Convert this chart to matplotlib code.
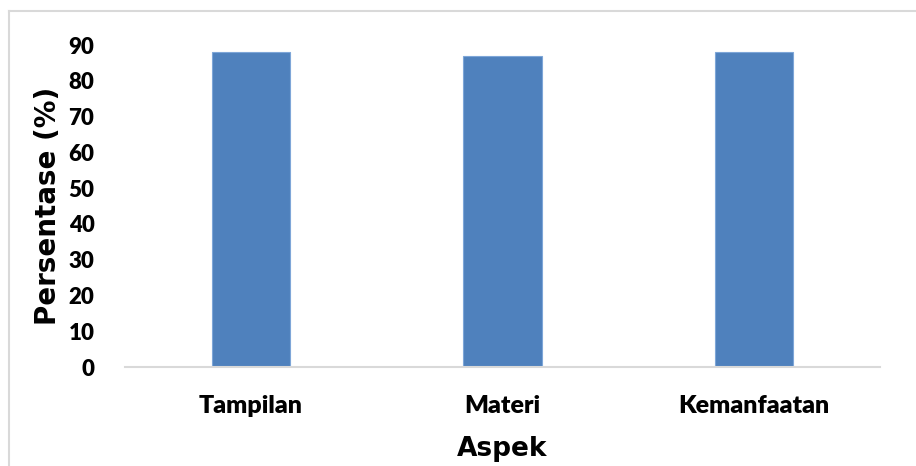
import matplotlib
matplotlib.use("Agg")
import matplotlib.pyplot as plt
from matplotlib.lines import Line2D

aspek = ["Tampilan", "Materi", "Kemanfaatan"]
persen = [88, 87, 88]
yticks = [0, 10, 20, 30, 40, 50, 60, 70, 80, 90]

W, H = 916, 466
fig = plt.figure(figsize=(W / 100, H / 100), dpi=100)
ax = fig.add_axes([125 / W, 1 - 367 / H, (880 - 125) / W, (367 - 45) / H])

x = range(len(aspek))
ax.bar(x, persen, width=0.31, color="#4f81bd", edgecolor="#7ea6d8", linewidth=0.8)

ax.set_xlim(-0.5, len(aspek) - 0.5)
ax.set_ylim(0, 90)
ax.set_yticks(yticks)
ax.set_xticks(list(x))
ax.set_xticklabels(aspek)

for s in ["top", "right", "left"]:
    ax.spines[s].set_visible(False)
ax.spines["bottom"].set_color("#d9d9d9")
ax.spines["bottom"].set_linewidth(1.5)
ax.tick_params(axis="y", length=0, labelsize=16, pad=22)
ax.tick_params(axis="x", length=0, labelsize=18, pad=20)
for lab in ax.get_xticklabels() + ax.get_yticklabels():
    lab.set_fontfamily("Lato")
    lab.set_fontweight("heavy")

ax.set_xlabel("Aspek", fontsize=19, fontweight="heavy", family="DejaVu Sans", labelpad=14)
ax.set_ylabel("Persentase (%)", fontsize=20, fontweight="heavy", family="DejaVu Sans", labelpad=5)

# chart border
fig.add_artist(Line2D([9 / W, 9 / W], [0, 1 - 11 / H], color="#d9d9d9", lw=1.5))
fig.add_artist(Line2D([9 / W, 1], [1 - 11 / H, 1 - 11 / H], color="#d9d9d9", lw=1.5))

fig.savefig("out.png", dpi=100)
